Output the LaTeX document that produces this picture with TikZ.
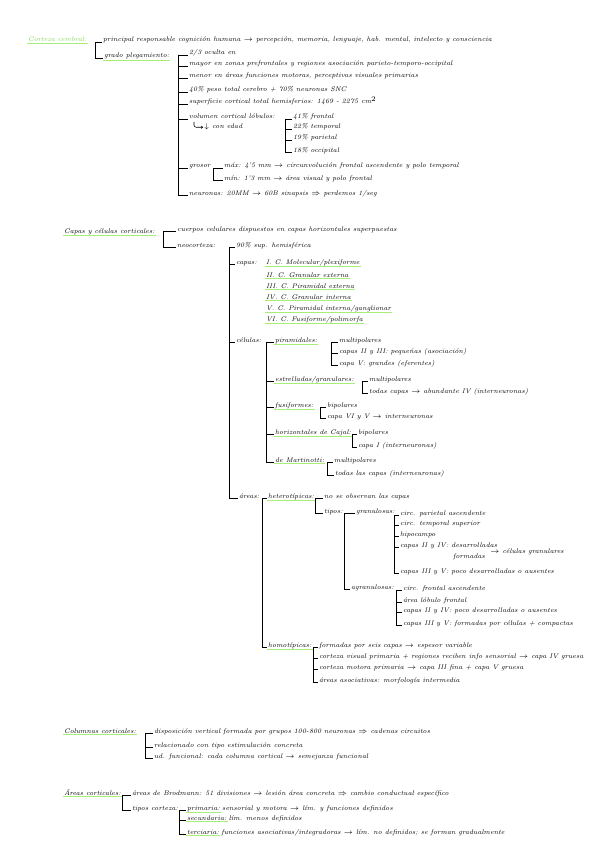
\documentclass[tikz,border=0pt]{standalone}
\usetikzlibrary{arrows.meta}
\definecolor{hlgreen}{HTML}{A6EE78}
\definecolor{titlegreen}{HTML}{86D957}

\begin{document}
\begin{tikzpicture}[x=.25mm,y=-.25mm,
  txt/.style={anchor=base west,inner sep=.6pt,font=\itshape\fontsize{4.8}{6}\selectfont},
  uline/.style={draw=hlgreen,line width=.9pt},
  hl/.style={append after command={(\tikzlastnode.south west) edge[uline] (\tikzlastnode.south east)}},
  link/.style={line width=.4pt}]
\useasboundingbox (0,0) rectangle (600,848);
\fill[white] (0,0) rectangle (600,848);

% CORTEZA CEREBRAL
\node[txt,hl,text=titlegreen] (cc) at (27,42) {Corteza cerebral:};
\node[txt] (resp) at (102,42) {principal responsable cognición humana $\rightarrow$ percepción, memoria, lenguaje, hab. mental, intelecto y consciencia};
\node[txt,hl] (pleg) at (103,58) {grado plegamiento:};
\coordinate (bcc) at (95,42);
\foreach \n in {resp,pleg} \draw[link] (bcc) |- (\n.base west);

\node[txt] (ocul) at (188,55) {2/3 oculta en};
\node[txt] (mayor) at (188,66) {mayor en zonas prefrontales y regiones asociación parieto-temporo-occipital};
\node[txt] (menor) at (188,78) {menor en áreas funciones motoras, perceptivas visuales primarias};
\node[txt] (peso) at (188,92) {40\% peso total cerebro + 70\% neuronas SNC};
\node[txt] (supf) at (188,104) {superficie cortical total hemisferios: 1469 - 2275 cm$^2$};
\node[txt] (vol) at (188,119) {volumen cortical lóbulos:};
\node[txt] (gros) at (188,168) {grosor};
\node[txt] (neur) at (188,195) {neuronas: 20MM $\rightarrow$ 60B sinapsis $\Rightarrow$ perdemos 1/seg};
\coordinate (bpleg) at (178,55);
\foreach \n in {ocul,mayor,menor,peso,supf,vol,gros,neur} \draw[link] (bpleg) |- (\n.base west);

% lobulos y edad
\node[txt] (edad) at (203,129) {$\downarrow$ con edad};
\draw[link,-{To[length=1.4pt,width=2pt]},rounded corners=1.5pt] ([shift={(6,3)}]vol.base west) |- (edad.west);
\node[txt] (lfr) at (292,119) {41\% frontal};
\node[txt] (lte) at (292,129) {22\% temporal};
\node[txt] (lpa) at (292,140) {19\% parietal};
\node[txt] (loc) at (292,152) {18\% occipital};
\coordinate (bvol) at (285,119);
\foreach \n in {lfr,lte,lpa,loc} \draw[link] (bvol) |- (\n.base west);

\node[txt] (gmax) at (223,168) {máx: 4'5 mm $\rightarrow$ circunvolución frontal ascendente y polo temporal};
\node[txt] (gmin) at (223,180) {mín: 1'3 mm $\rightarrow$ área visual y polo frontal};
\coordinate (bgros) at (213,168);
\foreach \n in {gmax,gmin} \draw[link] (bgros) |- (\n.base west);

% CAPAS Y CELULAS CORTICALES
\node[txt,hl] (cyc) at (63,233) {Capas y células corticales:};
\node[txt] (cuer) at (176,231) {cuerpos celulares dispuestos en capas horizontales superpuestas};
\node[txt] (neo) at (176,247) {neocorteza:};
\coordinate (bcyc) at (163,231);
\foreach \n in {cuer,neo} \draw[link] (bcyc) |- (\n.base west);

\node[txt] (sup90) at (235,247) {90\% sup. hemisférica};
\node[txt] (capas) at (235,264) {capas:};
\node[txt] (cel) at (235,342) {células:};
\node[txt] (areas) at (238,498) {áreas:};
\coordinate (bneo) at (229,247);
\foreach \n in {sup90,capas,cel,areas} \draw[link] (bneo) |- (\n.base west);

\node[txt,hl] (c1) at (265,264) {I. C. Molecular/plexiforme};
\node[txt,hl] (c2) at (265,277) {II. C. Granular externa};
\node[txt,hl] (c3) at (265,288) {III. C. Piramidal externa};
\node[txt,hl] (c4) at (265,299) {IV. C. Granular interna};
\node[txt,hl] (c5) at (265,310) {V. C. Piramidal interna/ganglionar};
\node[txt,hl] (c6) at (265,321) {VI. C. Fusiforme/polimorfa};

% tipos de celulas
\node[txt,hl] (pir) at (274,342) {piramidales:};
\node[txt,hl] (est) at (274,381) {estrelladas/granulares:};
\node[txt,hl] (fus) at (274,407) {fusiformes:};
\node[txt,hl] (hor) at (274,434) {horizontales de Cajal:};
\node[txt,hl] (mart) at (274,462) {de Martinotti:};
\coordinate (bcel) at (266,342);
\foreach \n in {pir,est,fus,hor,mart} \draw[link] (bcel) |- (\n.base west);

\node[txt] (pi1) at (338,342) {multipolares};
\node[txt] (pi2) at (338,353) {capas II y III: pequeñas (asociación)};
\node[txt] (pi3) at (338,365) {capa V: grandes (eferentes)};
\coordinate (bpir) at (331,342);
\foreach \n in {pi1,pi2,pi3} \draw[link] (bpir) |- (\n.base west);

\node[txt] (es1) at (368,381) {multipolares};
\node[txt] (es2) at (368,393) {todas capas $\rightarrow$ abundante IV (interneuronas)};
\coordinate (best) at (362,381);
\foreach \n in {es1,es2} \draw[link] (best) |- (\n.base west);

\node[txt] (fu1) at (326,407) {bipolares};
\node[txt] (fu2) at (326,418) {capa VI y V $\rightarrow$ interneuronas};
\coordinate (bfus) at (320,407);
\foreach \n in {fu1,fu2} \draw[link] (bfus) |- (\n.base west);

\node[txt] (ho1) at (357,434) {bipolares};
\node[txt] (ho2) at (357,447) {capa I (interneuronas)};
\coordinate (bhor) at (352,434);
\foreach \n in {ho1,ho2} \draw[link] (bhor) |- (\n.base west);

\node[txt] (ma1) at (333,462) {multipolares};
\node[txt] (ma2) at (334,475) {todas las capas (interneuronas)};
\coordinate (bmart) at (327,462);
\foreach \n in {ma1,ma2} \draw[link] (bmart) |- (\n.base west);

% areas: heterotipicas / homotipicas
\node[txt,hl] (het) at (267,498) {heterotípicas:};
\node[txt,hl] (hom) at (267,647) {homotípicas:};
\coordinate (bareas) at (262,498);
\foreach \n in {het,hom} \draw[link] (bareas) |- (\n.base west);

\node[txt] (nobs) at (323,498) {no se observan las capas};
\node[txt] (tip) at (323,513) {tipos:};
\coordinate (bhet) at (315,498);
\foreach \n in {nobs,tip} \draw[link] (bhet) |- (\n.base west);

\node[txt] (gran) at (355,513) {granulosas:};
\node[txt] (agr) at (350,589) {agranulosas:};
\coordinate (btip) at (344,513);
\foreach \n in {gran,agr} \draw[link] (btip) |- (\n.base west);

\node[txt] (gr1) at (399,515) {circ. parietal ascendente};
\node[txt] (gr2) at (399,525) {circ. temporal superior};
\node[txt] (gr3) at (399,536) {hipocampo};
\node[txt] (gr4) at (399,547) {capas II y IV: desarrolladas};
\node[txt] (gr4b) at (452,558) {formadas};
\node[txt] (gr4c) at (489,553) {$\rightarrow$ células granulares};
\node[txt] (gr5) at (399,573) {capas III y V: poco desarrolladas o ausentes};
\coordinate (bgran) at (394,515);
\foreach \n in {gr1,gr2,gr3,gr4,gr5} \draw[link] (bgran) |- (\n.base west);

\node[txt] (ag1) at (402,590) {circ. frontal ascendente};
\node[txt] (ag2) at (402,602) {área lóbulo frontal};
\node[txt] (ag3) at (402,612) {capas II y IV: poco desarrolladas o ausentes};
\node[txt] (ag4) at (402,625) {capas III y V: formadas por células + compactas};
\coordinate (bagr) at (396,590);
\foreach \n in {ag1,ag2,ag3,ag4} \draw[link] (bagr) |- (\n.base west);

\node[txt] (hm1) at (318,647) {formadas por seis capas $\rightarrow$ espesor variable};
\node[txt] (hm2) at (318,658) {corteza visual primaria + regiones reciben info sensorial $\rightarrow$ capa IV gruesa};
\node[txt] (hm3) at (318,669) {corteza motora primaria $\rightarrow$ capa III fina + capa V gruesa};
\node[txt] (hm4) at (318,682) {áreas asociativas: morfología intermedia};
\coordinate (bhom) at (313,647);
\foreach \n in {hm1,hm2,hm3,hm4} \draw[link] (bhom) |- (\n.base west);

% COLUMNAS CORTICALES
\node[txt,hl] (col) at (63,733) {Columnas corticales:};
\node[txt] (co1) at (153,733) {disposición vertical formada por grupos 100-800 neuronas $\Rightarrow$ cadenas circuitos};
\node[txt] (co2) at (153,747) {relacionado con tipo estimulación concreta};
\node[txt] (co3) at (153,758) {ud. funcional: cada columna cortical $\rightarrow$ semejanza funcional};
\coordinate (bcol) at (145,733);
\foreach \n in {co1,co2,co3} \draw[link] (bcol) |- (\n.base west);

% AREAS CORTICALES
\node[txt,hl] (arc) at (63,795) {Áreas corticales:};
\node[txt] (brod) at (131,795) {áreas de Brodmann: 51 divisiones $\rightarrow$ lesión área concreta $\Rightarrow$ cambio conductual específico};
\node[txt] (tcor) at (131,810) {tipos corteza:};
\coordinate (barc) at (122,795);
\foreach \n in {brod,tcor} \draw[link] (barc) |- (\n.base west);

\node[txt,hl] (prim) at (186,810) {primaria:};
\node[txt] (primr) at (prim.base east) {sensorial y motora $\rightarrow$ lím. y funciones definidos};
\node[txt,hl] (secu) at (186,820) {secundaria:};
\node[txt] (secur) at (secu.base east) {lím. menos definidos};
\node[txt,hl] (terc) at (186,834) {terciaria:};
\node[txt] (tercr) at (terc.base east) {funciones asociativas/integradoras $\rightarrow$ lím. no definidos; se forman gradualmente};
\coordinate (btcor) at (179,810);
\foreach \n in {prim,secu,terc} \draw[link] (btcor) |- (\n.base west);
\end{tikzpicture}
\end{document}
